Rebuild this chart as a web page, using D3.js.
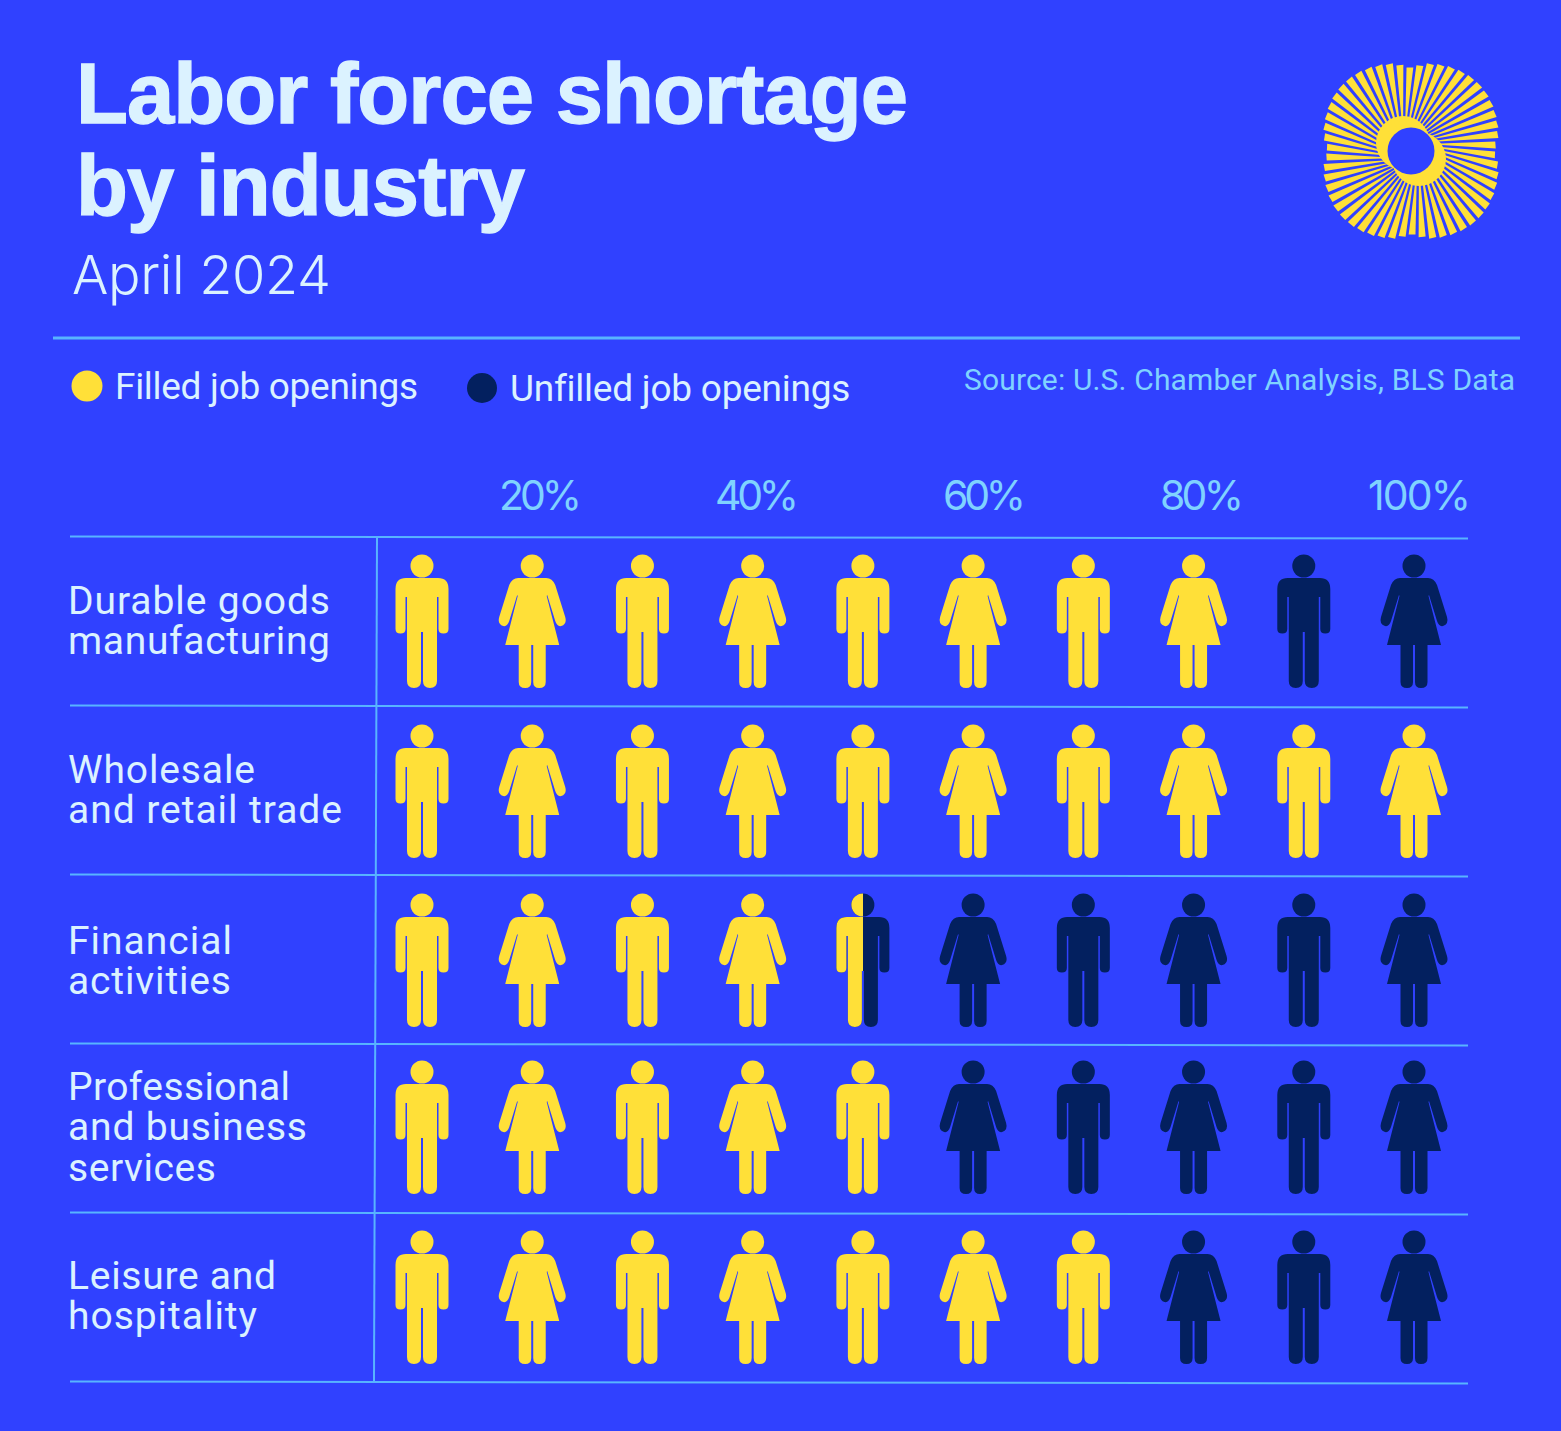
<!DOCTYPE html>
<html><head><meta charset="utf-8">
<script src="https://cdn.jsdelivr.net/npm/d3@7/dist/d3.min.js"></script>
<style>html,body{margin:0;padding:0;background:#3041ff}svg{display:block}text{font-family:"Liberation Sans",sans-serif}</style>
</head><body><svg id="c" width="1561" height="1431"></svg>
<script>
// ---- data ----
const industries = [
  ["Durable goods","manufacturing"],
  ["Wholesale","and retail trade"],
  ["Financial","activities"],
  ["Professional","and business","services"],
  ["Leisure and","hospitality"]
];
const filledPercent = [80, 100, 45, 50, 70];
const tickLabels = ["20%","40%","60%","80%","100%"];
const legendLabels = ["Filled job openings","Unfilled job openings"];
const titleLines = ["Labor force shortage","by industry"];
const subtitle = "April 2024";
const source = "Source: U.S. Chamber Analysis, BLS Data";

// ---- style / layout ----
const BG="#3041ff", YEL="#ffe038", NAVY="#03205f", LINE="#58b4ff", PALE="#dbf2ff", CYAN="#7fd2ff";
const LIGHT='Inter, "Liberation Sans", sans-serif', BODY='Roboto, "Liberation Sans", sans-serif';
const svg=d3.select("#c");
svg.append("rect").attr("width",1561).attr("height",1431).attr("fill",BG);

function fit(sel,w){
  sel.each(function(){
    const n=this.getNumberOfChars(); const len=this.getComputedTextLength();
    d3.select(this).style("letter-spacing",((w-len)/(n-1))+"px");
  });
  return sel;
}
function txt(s,x,y,size,fill,w,weight,family){
  const t=svg.append("text").attr("x",x).attr("y",y).attr("font-size",size).attr("fill",fill)
    .attr("font-weight",weight||400).text(s);
  if(family) t.style("font-family",family);
  if(w) fit(t,w);
  return t;
}

// header
txt(titleLines[0],76,123,85,PALE,832,700).attr("stroke",PALE).attr("stroke-width",1.3);
txt(titleLines[1],76,215,85,PALE,449,700).attr("stroke",PALE).attr("stroke-width",1.3);
txt(subtitle,72,294,54,PALE,259,300,LIGHT);
svg.append("line").attr("x1",53).attr("x2",1520).attr("y1",338).attr("y2",338).attr("stroke",LINE).attr("stroke-width",3);

// legend
svg.append("circle").attr("cx",87).attr("cy",386).attr("r",15.5).attr("fill",YEL);
txt(legendLabels[0],115,399,37,PALE,303,400,BODY);
svg.append("circle").attr("cx",482).attr("cy",388).attr("r",15).attr("fill",NAVY);
txt(legendLabels[1],510,401,37,PALE,339,400,BODY);
txt(source,964,390,30,CYAN,551,400,BODY);

// scales
const col=d3.scaleLinear().domain([0,9]).range([422,1414]);
const row=d3.scaleLinear().domain([0,5]).range([537,1382]);
const tickX=[499,715,943,1160,1368];
const tickW=[83,84,83,84,103];

// ticks
tickLabels.forEach((t,i)=>{ txt(t,tickX[i],510,41,CYAN,tickW[i],400,LIGHT); });

// grid lines
d3.range(6).forEach(i=>{
  svg.append("line").attr("x1",70).attr("x2",1468).attr("y1",row(i)-0.5).attr("y2",row(i)+1.5)
    .attr("stroke",LINE).attr("stroke-width",2);
});
svg.append("line").attr("x1",377).attr("x2",374).attr("y1",row(0)).attr("y2",row(5)).attr("stroke",LINE).attr("stroke-width",2);

// row labels
const labelNudge=[1,1,3,0,0];
const labelW=[[262,262],[187,274],[164,163],[222,239,148],[208,189]];
industries.forEach((lines,r)=>{
  const first= lines.length===3 ? row(r)+56 : row(r)+76+labelNudge[r];
  lines.forEach((l,k)=>{ txt(l,68,first+k*40.3,39,PALE,labelW[r][k],400,BODY); });
});

// pictogram glyphs
const MAN="M-16,23H16Q26.5,23 26.5,34V74Q26.5,78.5 21.5,78.5Q16.5,78.5 16.5,74V42H15V126Q15,133 8,133Q1,133 1,126V77H-1V126Q-1,133 -8,133Q-15,133 -15,126V42H-16.5V74Q-16.5,78.5 -21.5,78.5Q-26.5,78.5 -26.5,74V34Q-26.5,23 -16,23Z";
const WOMAN="M-14,23H14Q20,23 23,30L33,62Q35,69 29,71Q25,72 23,66L15,40L14.5,41L27,90H13.5V127Q13.5,133 7,133Q1,133 1,127V90H-1V127Q-1,133 -7,133Q-13.5,133 -13.5,127V90H-27L-14.5,41L-15,40L-23,66Q-25,72 -29,71Q-35,69 -33,62L-23,30Q-20,23 -14,23Z";
const defs=svg.append("defs");
const personNudge=[0,1,1,-1,0];
function person(g,i,color){
  g.append("circle").attr("cx",0).attr("cy",11).attr("r",11.5).attr("fill",color);
  g.append("path").attr("d",i%2?WOMAN:MAN).attr("fill",color);
}
filledPercent.forEach((v,r)=>{
  const count=v/10;
  d3.range(10).forEach(i=>{
    const frac=Math.max(0,Math.min(1,count-i));
    const g=svg.append("g").attr("transform",`translate(${col(i)},${row(r)+18+personNudge[r]})`);
    if(frac<=0){person(g,i,NAVY);return;}
    if(frac>=1){person(g,i,YEL);return;}
    person(g,i,NAVY);
    const id=`clip-${r}-${i}`;
    const halfW=i%2?36:28;
    defs.append("clipPath").attr("id",id).append("rect")
      .attr("x",-halfW).attr("y",-2).attr("width",2*halfW*frac).attr("height",140);
    person(g.append("g").attr("clip-path",`url(#${id})`),i,YEL);
  });
});

// logo: sunburst mark
const logo=svg.append("g").attr("transform","translate(1411,151)");
logo.append("circle").attr("cx",-8).attr("cy",-8).attr("r",27).attr("fill",YEL);
logo.append("circle").attr("cx",8).attr("cy",8).attr("r",27).attr("fill",YEL);
const N=54;
d3.range(N).forEach(k=>{
  const a=k/N*2*Math.PI;
  const b=a+0.22;
  const c=Math.abs(Math.cos(b)),s=Math.abs(Math.sin(b)),n=2.6;
  const notch=1-0.05*Math.exp(-Math.pow(Math.min(c,s)/0.14,2));
  const R=88*notch/Math.pow(Math.pow(c,n)+Math.pow(s,n),1/n);
  const hw=2*Math.PI/N*0.35;
  const p=(ang,r)=>[r*Math.sin(ang),-r*Math.cos(ang)];
  const pts=[p(a-hw*0.35,24),p(b-hw,R),p(b+hw,R),p(a+hw*0.35,24)];
  logo.append("path").attr("d","M"+pts.join("L")+"Z").attr("fill",YEL);
});
logo.append("circle").attr("r",23.5).attr("fill",BG);
</script></body></html>
